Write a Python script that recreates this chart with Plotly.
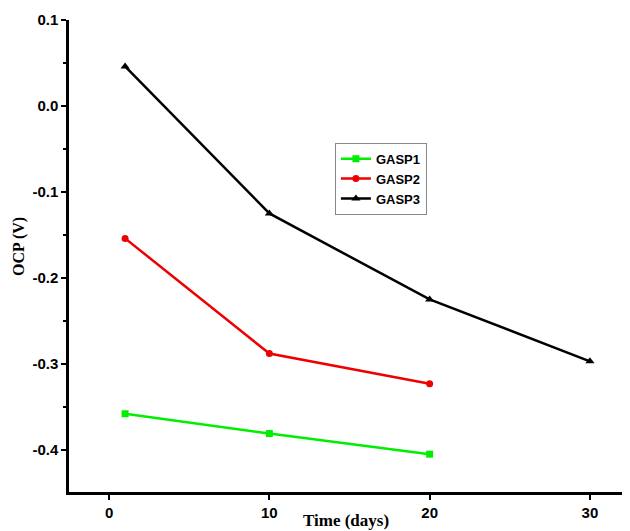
import plotly.graph_objects as go

# data
days_1 = [1, 10, 20]
gasp1 = [-0.358, -0.381, -0.405]
days_2 = [1, 10, 20]
gasp2 = [-0.154, -0.288, -0.323]
days_3 = [1, 10, 20, 30]
gasp3 = [0.046, -0.125, -0.225, -0.297]

x_ticks = [0, 10, 20, 30]
y_ticks = [-0.4, -0.3, -0.2, -0.1, 0.0, 0.1]

fig = go.Figure()
fig.add_trace(go.Scatter(x=days_1, y=gasp1, name='GASP1', mode='lines+markers',
                         line=dict(color='#00ee00', width=2.5),
                         marker=dict(symbol='square', size=7)))
fig.add_trace(go.Scatter(x=days_2, y=gasp2, name='GASP2', mode='lines+markers',
                         line=dict(color='#ee0000', width=2.5),
                         marker=dict(symbol='circle', size=7)))
fig.add_trace(go.Scatter(x=days_3, y=gasp3, name='GASP3', mode='lines+markers',
                         line=dict(color='black', width=2.5),
                         marker=dict(symbol='triangle-up', size=8)))

tickfont = dict(family='Liberation Sans, Arial', size=15, color='black')

# page body has an 8px margin, so the figure is shrunk and shifted by that
fig.update_layout(
    width=622, height=523,
    margin=dict(l=61, r=0, t=12, b=39),
    plot_bgcolor='white', paper_bgcolor='white',
    showlegend=True,
    legend=dict(x=0.474, y=0.74, xanchor='left', yanchor='top',
                bordercolor='#888888', borderwidth=1,
                font=dict(family='Liberation Sans, Arial', size=13, color='black',
                          weight='bold'),
                tracegroupgap=0, itemwidth=30),
    xaxis=dict(range=[-2.5, 32.5], tickvals=x_ticks,
               ticktext=['<b>%d</b>' % v for v in x_ticks], showline=True,
               linecolor='black', linewidth=2.5, ticks='outside', tickwidth=2,
               ticklen=5, tickcolor='black', showgrid=False, zeroline=False,
               tickfont=tickfont),
    yaxis=dict(range=[-0.449, 0.1], tickvals=y_ticks,
               ticktext=['<b>%.1f</b>' % v for v in y_ticks],
               showline=True, linecolor='black', linewidth=2.5, ticks='outside',
               tickwidth=2, ticklen=5, tickcolor='black', showgrid=False,
               zeroline=False, tickfont=tickfont,
               minor=dict(ticks='outside', dtick=0.05, tick0=0, ticklen=3,
                          tickwidth=2, tickcolor='black')),
)

fig.add_annotation(text='<b>Time (days)</b>', xref='paper', yref='paper',
                   x=(346 - 69) / 561, y=(492 - 520) / 472, xanchor='center', yanchor='middle',
                   showarrow=False,
                   font=dict(family='Liberation Serif, Times New Roman', size=17, color='black'))
fig.add_annotation(text='<b>OCP (V)</b>', xref='paper', yref='paper',
                   x=(19 - 69) / 561, y=(492 - 247) / 472, xanchor='center', yanchor='middle',
                   textangle=-90, showarrow=False,
                   font=dict(family='Liberation Serif, Times New Roman', size=16, color='black'))

fig.write_html('out.html')
